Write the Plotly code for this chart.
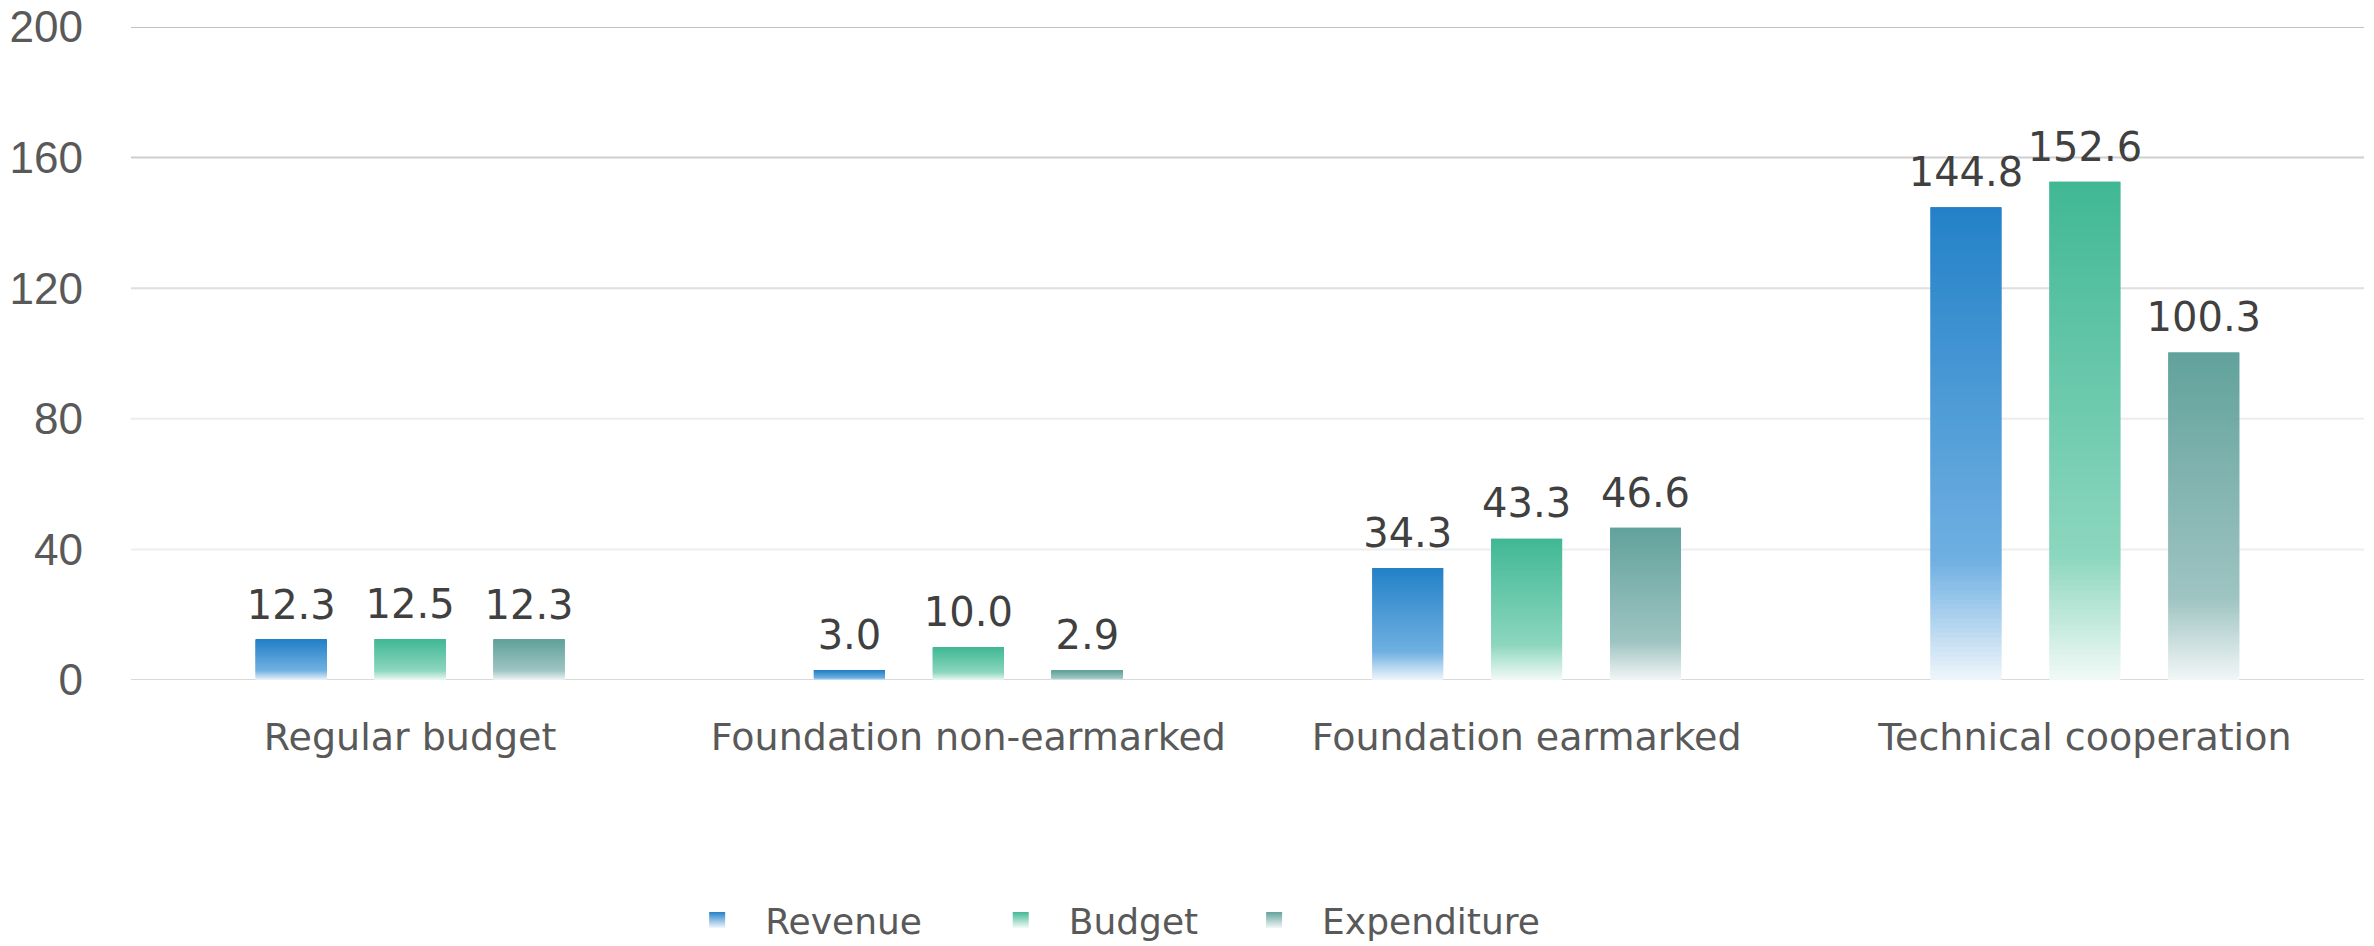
import plotly.graph_objects as go

categories = ["Regular budget", "Foundation non-earmarked", "Foundation earmarked", "Technical cooperation"]
revenue = [12.3, 3.0, 34.3, 144.8]
budget = [12.5, 10.0, 43.3, 152.6]
expenditure = [12.3, 2.9, 46.6, 100.3]
y_ticks = [0, 40, 80, 120, 160, 200]
grid_colors = ["#d9d9d9", "#eeeeee", "#ececec", "#dfdfdf", "#cfcfcf", "#c2c2c2"]

# (name, values, top colour, colour at 25% height, bottom colour, legend padding)
series = [
    ("Revenue", revenue, (35, 129, 199), (112, 176, 226), (240, 246, 252), 4),
    ("Budget", budget, (64, 184, 148), (140, 214, 190), (242, 250, 247), 2),
    ("Expenditure", expenditure, (98, 162, 156), (158, 196, 194), (242, 246, 246), 0),
]

N = 100  # slices per bar, used to fake a vertical gradient
LABEL_GAP = 2.8  # transparent spacer above each bar, lifts the value label


def mix(c1, c2, t):
    return "rgb(%d,%d,%d)" % tuple(round(a + (b - a) * t) for a, b in zip(c1, c2))


def grad(top, mid, bottom, f):
    if f < 0.25:
        return mix(bottom, mid, f / 0.25)
    return mix(mid, top, (f - 0.25) / 0.75)


fig = go.Figure()
for name, vals, top, mid, bottom, pad in series:
    for k in range(N):
        # each slice overlaps the next one a little so no seams show
        fig.add_trace(go.Bar(
            x=categories,
            y=[min(v * (k + 2) / N, v) - v * k / N for v in vals],
            base=[v * k / N for v in vals],
            offsetgroup=name,
            showlegend=False,
            marker=dict(color=grad(top, mid, bottom, (k + 0.5) / N), line=dict(width=0)),
            hoverinfo="skip",
        ))
    # value labels
    fig.add_trace(go.Bar(
        x=categories,
        y=[LABEL_GAP] * len(vals),
        base=vals,
        offsetgroup=name,
        showlegend=False,
        marker=dict(color="rgba(0,0,0,0)", line=dict(width=0)),
        text=["%.1f" % v for v in vals],
        textposition="outside",
        textfont=dict(family="DejaVu Sans", size=40, color="#404040"),
        constraintext="none",
        cliponaxis=False,
        hoverinfo="skip",
    ))
    # legend entry
    fig.add_trace(go.Scatter(
        x=[None], y=[None], mode="markers", name=name + "\u00a0" * pad,
        marker=dict(symbol="square", size=16, color=mix(top, top, 0),
                    gradient=dict(type="vertical", color=mix(bottom, bottom, 0))),
    ))

for t, c in zip(y_ticks, grid_colors):
    fig.add_shape(type="line", xref="paper", x0=0, x1=1, y0=t, y1=t,
                  line=dict(color=c, width=2), layer="below")

# the page body adds an 8px margin, so the figure is 8px smaller each way
fig.update_layout(
    width=2366, height=938,
    margin=dict(l=123, r=10, t=19, b=266, autoexpand=False),
    paper_bgcolor="white", plot_bgcolor="white",
    font=dict(family="DejaVu Sans", color="#595959", size=38),
    barmode="group",
    bargap=0.361,
    bargroupgap=0.403,
    legend=dict(
        orientation="h",
        x=0.241, xanchor="left",
        y=-0.3675, yanchor="middle",
        font=dict(family="DejaVu Sans", size=36, color="#595959"),
        itemwidth=86,
        traceorder="normal",
    ),
    xaxis=dict(
        showgrid=False, automargin=False,
        showline=False,
        ticks="", ticklabelstandoff=31,
        tickfont=dict(family="DejaVu Sans", size=38, color="#595959"),
    ),
    yaxis=dict(
        range=[0, 200], automargin=False,
        tickvals=y_ticks,
        showgrid=False,
        zeroline=False,
        showline=False,
        ticks="", ticklabelstandoff=47,
        ticklabeloverflow="allow",
        tickfont=dict(family="Liberation Sans", size=44, color="#595959"),
    ),
)

fig.write_html("out.html")
